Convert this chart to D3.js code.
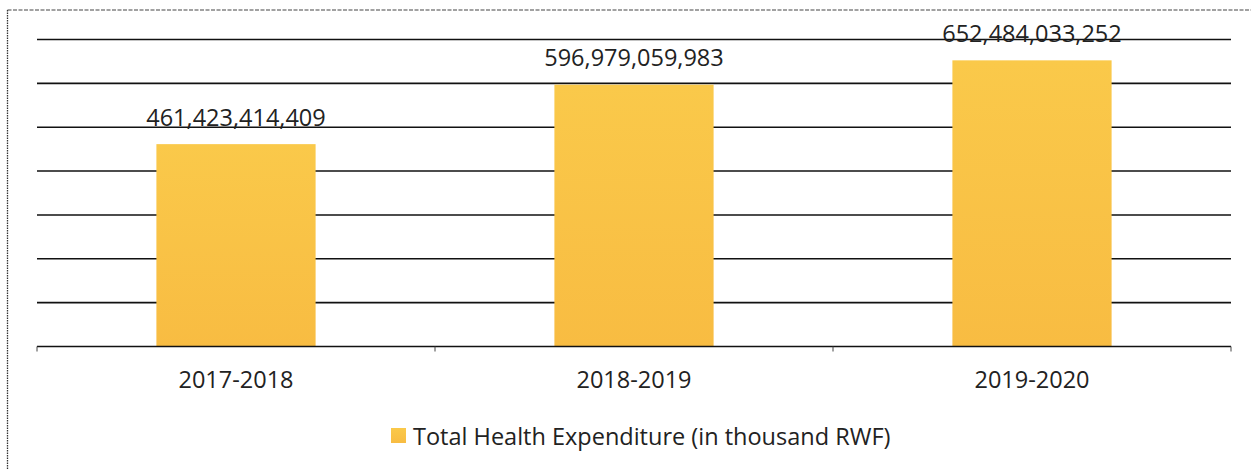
<!DOCTYPE html>
<html>
<head>
<meta charset="utf-8">
<script src="https://cdn.jsdelivr.net/npm/d3@7"></script>
<style>
  html, body { margin: 0; padding: 0; background: #fff; }
  svg { display: block; }
  text { font-family: "Open Sans", "Noto Sans", sans-serif; fill: #222; }
</style>
</head>
<body>
<svg id="chart" width="1251" height="470"></svg>
<script>
const categories = ["2017-2018", "2018-2019", "2019-2020"];
const values = [461423414409, 596979059983, 652484033252];
const yTicks = [0, 100e9, 200e9, 300e9, 400e9, 500e9, 600e9, 700e9];
const seriesName = "Total Health Expenditure (in thousand RWF)";

const svg = d3.select("#chart");
const W = 1251, H = 470;
const m = { left: 37, right: 20, top: 39.5, bottom: 123.5 };

const defs = svg.append("defs");
const grad = defs.append("linearGradient").attr("id", "barGrad")
  .attr("x1", 0).attr("y1", 0).attr("x2", 0).attr("y2", 1);
grad.append("stop").attr("offset", "0%").attr("stop-color", "#FAC94A");
grad.append("stop").attr("offset", "100%").attr("stop-color", "#F8BC42");

// outer frame (dotted, like a scanned border)
svg.append("line").attr("x1", 7.5).attr("x2", 7.5).attr("y1", 10).attr("y2", H)
  .attr("stroke", "#333").attr("stroke-width", 1.3).attr("stroke-dasharray", "1.5,1");
svg.append("line").attr("x1", 7.5).attr("x2", W).attr("y1", 10).attr("y2", 10)
  .attr("stroke", "#444").attr("stroke-width", 1.2).attr("stroke-dasharray", "4,1.5");

const x = d3.scaleBand().domain(categories).range([m.left, W - m.right])
  .paddingInner(0.6).paddingOuter(0.3);
const y = d3.scaleLinear().domain([0, 700e9]).range([H - m.bottom, m.top]);

// gridlines
svg.append("g").selectAll("line").data(yTicks.slice(1)).join("line")
  .attr("x1", m.left).attr("x2", W - m.right)
  .attr("y1", d => y(d)).attr("y2", d => y(d))
  .attr("stroke", "#111").attr("stroke-width", 1.6);

// bars
svg.append("g").selectAll("rect").data(values).join("rect")
  .attr("x", (d, i) => x(categories[i]))
  .attr("width", x.bandwidth())
  .attr("y", d => y(d))
  .attr("height", d => y(0) - y(d))
  .attr("fill", "url(#barGrad)");

// x axis
const xAxis = svg.append("g").attr("transform", `translate(0,${y(0)})`);
xAxis.append("line").attr("x1", m.left).attr("x2", W - m.right)
  .attr("stroke", "#111").attr("stroke-width", 1.6);
const tickXs = categories.map(c => x(c) - x.step() * x.paddingOuter()).concat([W - m.right]);
xAxis.selectAll("line.tick").data(tickXs).join("line").attr("class", "tick")
  .attr("x1", d => d).attr("x2", d => d).attr("y1", 0).attr("y2", 5)
  .attr("stroke", "#444").attr("stroke-width", 1);
xAxis.selectAll("text").data(categories).join("text")
  .attr("x", d => x(d) + x.bandwidth() / 2).attr("y", 41.5)
  .attr("text-anchor", "middle").attr("font-size", 23.5)
  .text(d => d);

// data labels
const fmt = d3.format(",");
svg.append("g").selectAll("text").data(values).join("text")
  .attr("x", (d, i) => x(categories[i]) + x.bandwidth() / 2)
  .attr("y", d => y(d) - 18.5)
  .attr("text-anchor", "middle").attr("font-size", 23.5)
  .text(d => fmt(d));

// legend
const lg = svg.append("g");
lg.append("rect").attr("x", 391).attr("y", 428).attr("width", 15).attr("height", 15)
  .attr("fill", "url(#barGrad)");
lg.append("text").attr("x", 413).attr("y", 445).attr("font-size", 23.5)
  .text(seriesName);
</script>
</body>
</html>
